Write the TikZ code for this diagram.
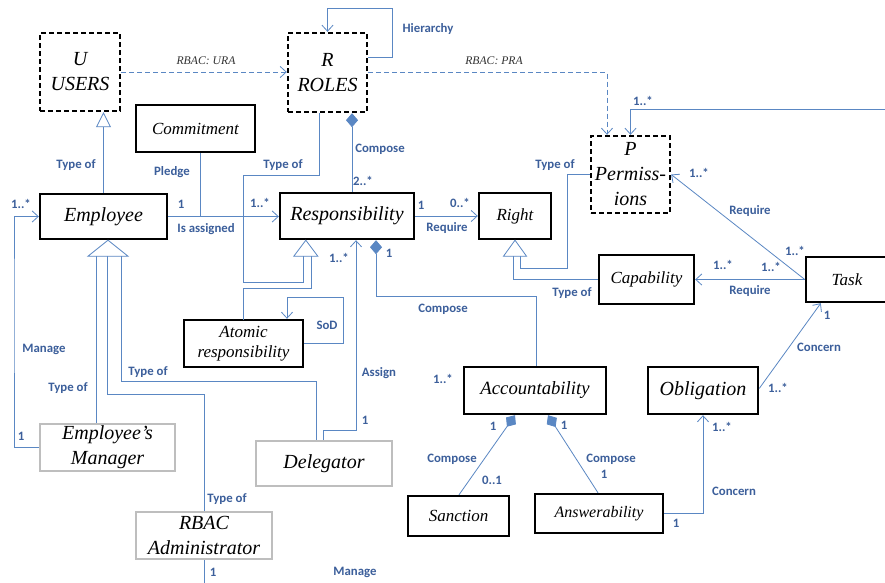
\documentclass[tikz,border=0pt]{standalone}
\usepackage{fontspec}
\setmainfont{Liberation Serif}
\newfontfamily\labfont{Carlito}
\usetikzlibrary{arrows.meta,calc}
\definecolor{lnc}{RGB}{90,135,195}
\definecolor{labc}{RGB}{60,95,155}
\definecolor{grayb}{RGB}{190,190,190}
\begin{document}
\begin{tikzpicture}[x=1pt,y=-1pt,
  box/.style={draw=black,line width=2.4pt,inner sep=0pt,align=center,font=\itshape\fontsize{20}{25}\selectfont},
  dbox/.style={box,dash pattern=on 5pt off 3pt},
  gbox/.style={box,draw=grayb},
  sbox/.style={box,font=\itshape\fontsize{17}{20}\selectfont},
  ln/.style={draw=lnc,line width=0.8pt},
  arr/.style={ln,-{Straight Barb[length=6pt,width=11pt]}},
  dsh/.style={dash pattern=on 5pt off 3pt},
  dia/.style={ln,{Diamond[length=14pt,width=12pt]}-},
  gen/.style={ln,fill=white},
  lbl/.style={font=\labfont\bfseries\fontsize{12.8}{14}\selectfont,text=labc,inner sep=0pt},
  ilbl/.style={font=\itshape\fontsize{11.7}{13}\selectfont,text=black!80,inner sep=0pt},
]
\useasboundingbox[fill=white] (0,0) rectangle (885,582);

% ---------- nodes ----------
\node[dbox,minimum width=80pt,minimum height=78pt] (users) at (80,72) {U\\USERS};
\node[dbox,minimum width=79pt,minimum height=79pt] (roles) at (327.5,72.5) {R\\ROLES};
\node[dbox,minimum width=79pt,minimum height=77pt] (perm) at (630.5,174.5) {P\\Permiss-\\ions};
\node[sbox,minimum width=119pt,minimum height=47pt] (commit) at (195.5,128.5) {Commitment};
\node[box,minimum width=127pt,minimum height=45pt] (emp) at (103.5,216.5) {Employee};
\node[box,minimum width=134pt,minimum height=46pt] (resp) at (347,216) {Responsibility};
\node[sbox,minimum width=72pt,minimum height=46pt] (right) at (515,216) {Right};
\node[sbox,minimum width=95pt,minimum height=49pt] (cap) at (646.5,279.5) {Capability};
\node[sbox,minimum width=82pt,minimum height=45pt] (task) at (847,279.5) {Task};
\node[sbox,minimum width=119pt,minimum height=47pt] (atomic) at (243.5,343.5) {Atomic\\responsibility};
\node[box,font=\itshape\fontsize{18.7}{22}\selectfont,minimum width=142pt,minimum height=47pt] (acc) at (535,390.5) {Accountability};
\node[box,minimum width=110pt,minimum height=47pt] (obl) at (703,390.5) {Obligation};
\node[sbox,minimum width=101pt,minimum height=40pt] (sanc) at (458.5,516) {Sanction};
\node[box,font=\itshape\fontsize{16}{19}\selectfont,minimum width=128pt,minimum height=39pt] (answ) at (599,513.5) {Answerability};
\node[gbox,minimum width=135pt,minimum height=47pt] (mgr) at (107.5,447.5) {Employee’s\\Manager};
\node[gbox,minimum width=136pt,minimum height=45pt] (deleg) at (324,463.5) {Delegator};
\node[gbox,minimum width=136pt,minimum height=47pt] (admin) at (204,535.5) {RBAC\\Administrator};

% ---------- free-end / bend coordinates ----------
\coordinate (offR) at (892,109);
\coordinate (admEnd) at (204,590);
\coordinate (hier) at (392,8);
\coordinate (b18) at (536,296);
\coordinate (pl) at ($(commit.south)+(4.5,0)$);

% ---------- connectors ----------
\draw[arr,dsh] (users.east) -- (users.east -| roles.west);
\draw[arr] ($(roles.east)+(0,-15.5)$) -| (hier) -| (roles.north);
\draw[arr,dsh] (roles.east) -| ($(perm.north)+(-23.5,0)$);
\draw[arr] (offR) -| (perm.north);
\draw[ln,-{Triangle[open,length=15pt,width=15pt]}] (emp.north) -- (emp.north |- users.south);
\draw[ln] (pl) -- (pl |- emp.east);
\draw[arr] (emp.east) -- (emp.east -| resp.west);
\draw[ln] ($(roles.south)+(-8.5,0)$) |- (243,175) |- (303,282) -- (303,256);
\draw[ln] (243,320) -- (243,288) -- (311,288) -- (311,256);
\draw[gen] ($(resp.south west)+(27,0)$) -- ++(-12,16) -- ++(24,0) -- cycle;
\draw[dia] ($(roles.south)+(24.5,0)$) -- ($(resp.north)+(5,0)$);
\draw[arr] (resp.east) -- (resp.east -| right.west);
\draw[ln] (520,256) |- (567,268) |- (perm.west);
\draw[ln] (513,256) |- (cap.west);
\draw[gen] (right.south) -- ++(-11.5,16) -- ++(23,0) -- cycle;
\draw[arr] (task.west) -- (task.west -| cap.east);
\draw[arr] (task.west) -- (perm.east);
\draw[arr] ($(obl.east)+(0,-2)$) -- ($(task.south west)+(16,0)$);
\draw[arr] (answ.east) -| (obl.south);
\draw[dia] ($(acc.south)+(-20,0)$) -- ($(sanc.north)+(0.5,0)$);
\draw[dia] ($(acc.south)+(13,0)$) -- ($(answ.north)+(-1,0)$);
\draw[dia] ($(resp.south)+(29,0)$) |- (b18) -- (b18 |- acc.north);
\draw[arr] (atomic.east) -| (343,297) -| ($(atomic.north)+(43.5,0)$);
\draw[arr] ($(deleg.north)+(-1,0)$) |- (356,430) -- ($(resp.south)+(9,0)$);
\draw[ln] ($(mgr.north)+(-11.5,0)$) -- (96,256);
\draw[ln] ($(deleg.north)+(-8,0)$) |- (121,381) -- (121,256);
\draw[ln] (admin.north) |- (107,394) -- (107,256);
\draw[gen] ($(emp.south)+(4.5,0)$) -- ++(-20,16) -- ++(40,0) -- cycle;
\draw[arr] (mgr.west) -| (14,300) |- (emp.west);
\draw[ln] (admin.south) -- (admEnd);

% ---------- labels ----------
\node[ilbl] (l1) at (206,61) {RBAC: URA};
\node[ilbl] (l2) at (494,61) {RBAC: PRA};
\node[lbl] at (428,29) {Hierarchy};
\node[lbl] at (76,165) {Type of};
\node[lbl] at (172,172) {Pledge};
\node[lbl] at (283,165) {Type of};
\node[lbl] at (380,149) {Compose};
\node[lbl] at (363,181) {2..*};
\node[lbl] at (181,204) {1};
\node[lbl] at (206,229) {Is assigned};
\node[lbl] at (260,203) {1..*};
\node[lbl] at (421,205) {1};
\node[lbl] at (460,203) {0..*};
\node[lbl] at (447,228) {Require};
\node[lbl] at (555,165) {Type of};
\node[lbl] at (643,101) {1..*};
\node[lbl] at (699,173) {1..*};
\node[lbl] at (750,211) {Require};
\node[lbl] at (795,251) {1..*};
\node[lbl] at (572,293) {Type of};
\node[lbl] at (723,265) {1..*};
\node[lbl] at (771,267) {1..*};
\node[lbl] at (750,291) {Require};
\node[lbl] at (339,258) {1..*};
\node[lbl] at (389,253) {1};
\node[lbl] at (443,309) {Compose};
\node[lbl] at (327,325) {SoD};
\node[lbl] at (443,379) {1..*};
\node[lbl] at (379,373) {Assign};
\node[lbl] at (365,420) {1};
\node[lbl] at (827,315) {1};
\node[lbl] at (819,347) {Concern};
\node[lbl] at (778,388) {1..*};
\node[lbl] at (722,427) {1..*};
\node[lbl] at (734,491) {Concern};
\node[lbl] at (676,523) {1};
\node[lbl] at (493,426) {1};
\node[lbl] at (452,459) {Compose};
\node[lbl] at (492,480) {0..1};
\node[lbl] at (564,425) {1};
\node[lbl] at (611,459) {Compose};
\node[lbl] at (604,474) {1};
\node[lbl] at (21,204) {1..*};
\node[lbl] at (44,349) {Manage};
\node[lbl] at (21,436) {1};
\node[lbl] at (68,388) {Type of};
\node[lbl] at (148,372) {Type of};
\node[lbl] at (227,499) {Type of};
\node[lbl] at (213,572) {1};
\node[lbl] at (355,572) {Manage};
\end{tikzpicture}
\end{document}
